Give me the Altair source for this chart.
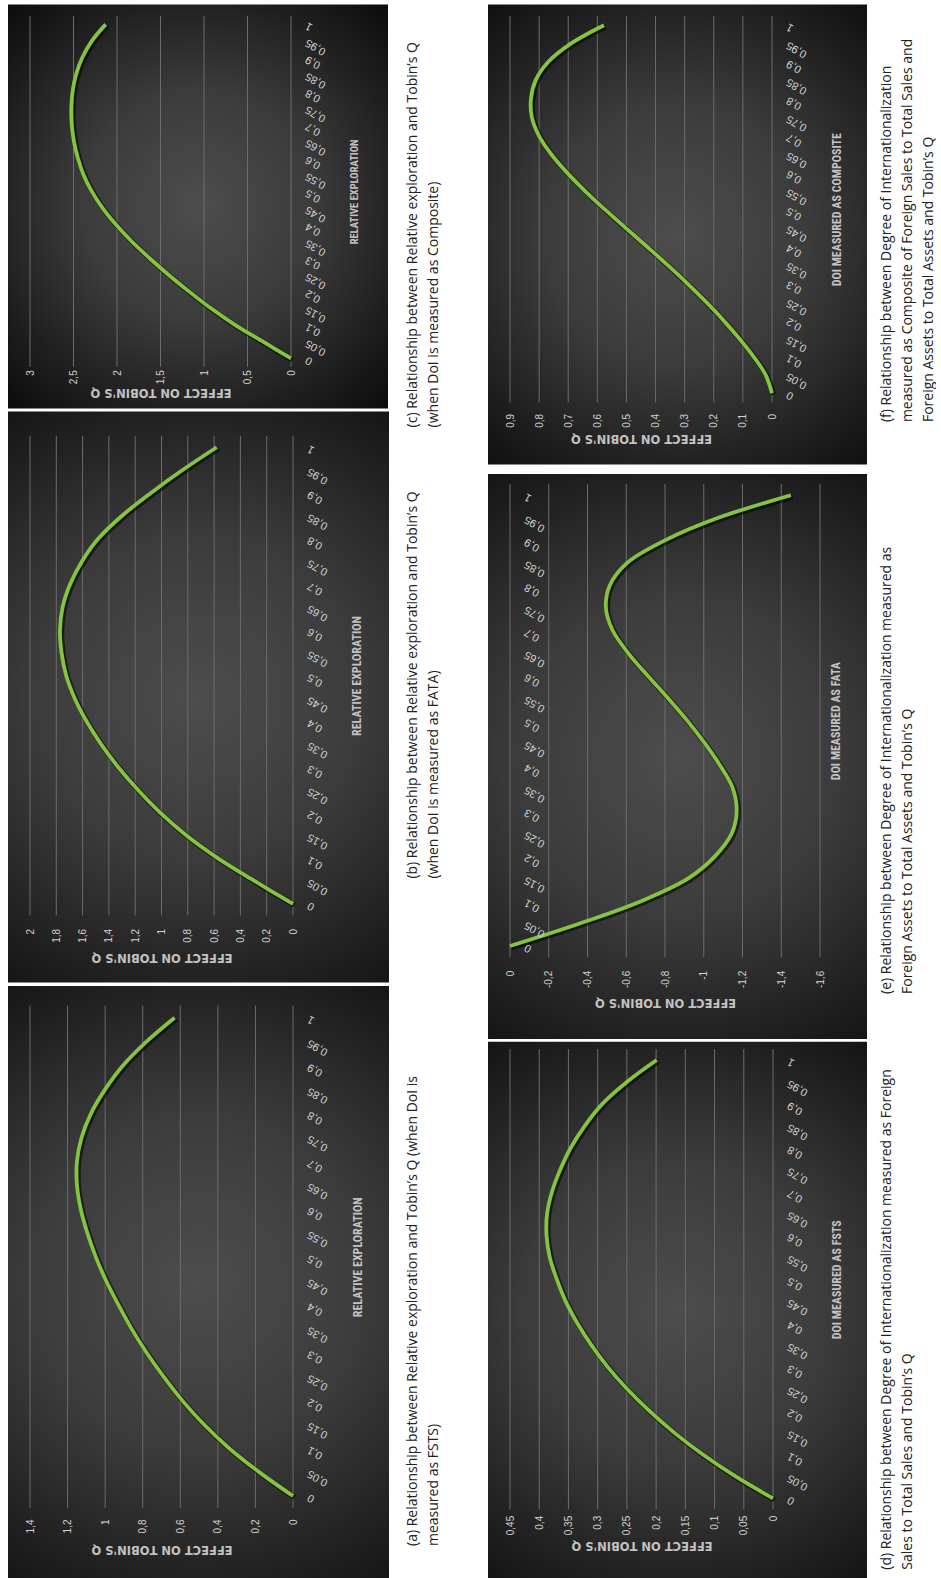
import altair as alt
import pandas as pd

# ---------------- data ----------------
categories = ["0", "0,05", "0,1", "0,15", "0,2", "0,25", "0,3", "0,35", "0,4", "0,45", "0,5",
              "0,55", "0,6", "0,65", "0,7", "0,75", "0,8", "0,85", "0,9", "0,95", "1"]

effect_a = [0, 0.18, 0.34, 0.475, 0.59, 0.69, 0.78, 0.86, 0.93, 0.995, 1.05,
            1.095, 1.13, 1.15, 1.15, 1.125, 1.075, 1.00, 0.905, 0.78, 0.63]
effect_b = [0, 0.29, 0.57, 0.81, 1.01, 1.18, 1.33, 1.46, 1.57, 1.66, 1.725,
            1.76, 1.772, 1.752, 1.695, 1.605, 1.48, 1.30, 1.08, 0.84, 0.58]
effect_c = [0, 0.32, 0.64, 0.92, 1.17, 1.405, 1.625, 1.83, 2.01, 2.165, 2.29,
            2.385, 2.45, 2.495, 2.52, 2.525, 2.51, 2.47, 2.40, 2.29, 2.13]
effect_d = [0, 0.064, 0.12, 0.169, 0.212, 0.25, 0.283, 0.311, 0.335, 0.355, 0.37,
            0.382, 0.3875, 0.3865, 0.378, 0.364, 0.346, 0.322, 0.292, 0.25, 0.199]
effect_e = [0, -0.36, -0.68, -0.92, -1.06, -1.145, -1.17, -1.15, -1.085, -1.005, -0.915,
            -0.815, -0.71, -0.61, -0.53, -0.495, -0.515, -0.605, -0.80, -1.075, -1.45]
effect_f = [0, 0.022, 0.064, 0.114, 0.169, 0.229, 0.293, 0.361, 0.432, 0.504, 0.575,
            0.643, 0.705, 0.759, 0.801, 0.825, 0.828, 0.812, 0.769, 0.691, 0.577]

ticks_a = [0, 0.2, 0.4, 0.6, 0.8, 1, 1.2, 1.4]
ticks_b = [0, 0.2, 0.4, 0.6, 0.8, 1, 1.2, 1.4, 1.6, 1.8, 2]
ticks_c = [0, 0.5, 1, 1.5, 2, 2.5, 3]
ticks_d = [0, 0.05, 0.1, 0.15, 0.2, 0.25, 0.3, 0.35, 0.4, 0.45]
ticks_e = [0, -0.2, -0.4, -0.6, -0.8, -1, -1.2, -1.4, -1.6]
ticks_f = [0, 0.1, 0.2, 0.3, 0.4, 0.5, 0.6, 0.7, 0.8, 0.9]

value_title = "EFFECT ON TOBIN'S Q"
cat_title_rel = "RELATIVE EXPLORATION"
cat_title_d = "DOI MEASURED AS FSTS"
cat_title_e = "DOI MEASURED AS FATA"
cat_title_f = "DOI MEASURED AS COMPOSITE"

caption_a = ["(a) Relationship between Relative exploration and Tobin\u2019s Q (when DoI is",
             "measured as FSTS)"]
caption_b = ["(b) Relationship between Relative exploration and Tobin\u2019s Q",
             "(when DoI is measured as FATA)"]
caption_c = ["(c) Relationship between Relative exploration and Tobin\u2019s Q",
             "(when DoI is measured as Composite)"]
caption_d = ["(d) Relationship between Degree of Internationalization measured as Foreign",
             "Sales to Total Sales and Tobin\u2019s Q"]
caption_e = ["(e) Relationship between Degree of Internationalization measured as",
             "Foreign Assets to Total Assets and Tobin\u2019s Q"]
caption_f = ["(f) Relationship between Degree of Internationalization",
             "measured as Composite of Foreign Sales to Total Sales and",
             "Foreign Assets to Total Assets and Tobin\u2019s Q"]

# ---------------- style ----------------
GREEN = "#84c441"
LABEL_COLOR = "#d2d2d2"
TITLE_COLOR = "#c2c2c2"
GRID_COLOR = "#6c6c6c"
TICK_FONT = "Liberation Sans"
WIDE_BOLD = "DejaVu Sans, Liberation Sans, sans-serif"
NARROW_FONT = "Liberation Sans Narrow, Roboto Condensed, DejaVu Sans Condensed, Liberation Sans, sans-serif"

bg_fill = alt.RadialGradient(
    gradient="radial",
    stops=[alt.GradientStop(offset=0, color="#4d4d4d"),
           alt.GradientStop(offset=0.4, color="#3b3b3b"),
           alt.GradientStop(offset=0.72, color="#1f1f1f"),
           alt.GradientStop(offset=1, color="#080808")],
    x1=0.5, y1=0.5, r1=0, x2=0.5, y2=0.5, r2=0.72,
)


def panel(values, domain, ticks, cat_title, caption, W, H, rect, cap_xy,
          label_pad, title_off, cat_title_x, cat_offset=0, cat_title_size=12):
    df = pd.DataFrame({"cat": categories, "val": values, "idx": list(range(len(categories)))})

    xenc = alt.X(
        "val:Q",
        scale=alt.Scale(domain=domain, reverse=True, nice=False, zero=False),
        axis=alt.Axis(
            values=ticks, title=value_title, orient="bottom", grid=False, domain=False,
            ticks=False, tickSize=0, labelAngle=270, labelAlign="right", labelBaseline="middle",
            labelPadding=label_pad, labelColor=LABEL_COLOR, labelFont=TICK_FONT, labelFontSize=10,
            labelExpr="replace(toString(datum.value), '.', ',')", labelOverlap=False,
            labelFlush=False, titleAngle=180, titleX=W / 2, titleY=title_off,
            titleAlign="center", titleBaseline="middle", titleColor=TITLE_COLOR,
            titleFont=WIDE_BOLD, titleFontSize=11.5, titleFontWeight="bold", zindex=1,
        ),
    )
    yenc = alt.Y(
        "cat:O",
        sort=categories[::-1],
        scale=alt.Scale(type="point", padding=0.5),
        axis=alt.Axis(
            orient="right", title=cat_title, grid=False, domain=False, ticks=False, tickSize=0,
            labelAngle=210, labelAlign="right", labelBaseline="middle", labelPadding=15,
            labelColor=LABEL_COLOR, labelFont=TICK_FONT, labelFontSize=11, labelOverlap=False,
            offset=cat_offset, titleAngle=270, titleX=cat_title_x, titleY=H / 2,
            titleAlign="center", titleBaseline="middle", titleColor=TITLE_COLOR,
            titleFont=NARROW_FONT, titleFontSize=cat_title_size, titleFontWeight="bold", zindex=1,
        ),
    )

    bg = alt.Chart(pd.DataFrame({"k": [0]})).mark_rect(fill=bg_fill).encode(
        x=alt.value(rect[0]), x2=alt.value(rect[1]), y=alt.value(rect[2]), y2=alt.value(rect[3])
    )
    rules = alt.Chart(pd.DataFrame({"val": ticks})).mark_rule(
        color=GRID_COLOR, strokeWidth=1
    ).encode(x=xenc)
    shadow = alt.Chart(df).mark_line(
        color="#000000", opacity=0.55, strokeWidth=5.5, xOffset=1.5, yOffset=1.5,
        interpolate="catmull-rom"
    ).encode(x=xenc, y=yenc, order="idx:Q")
    line = alt.Chart(df).mark_line(
        color=GREEN, strokeWidth=3.8, interpolate="catmull-rom"
    ).encode(x=xenc, y=yenc, order="idx:Q")
    cap = alt.Chart(pd.DataFrame({"t": ["\n".join(caption)]})).mark_text(
        angle=270, align="left", baseline="top", lineBreak="\n", lineHeight=21,
        font="Open Sans", fontSize=14, color="#222222"
    ).encode(x=alt.value(cap_xy[0]), y=alt.value(cap_xy[1]), text="t:N")

    return alt.layer(bg, rules, shadow, line, cap).properties(width=W, height=H)


pc = panel(effect_c, [0, 3], ticks_c, cat_title_rel, caption_c, 261, 350.8,
           (-22, 358, -11.6, 392.4), (376, 411.4), 3, 25, 63, cat_title_size=10.5)
pb = panel(effect_b, [0, 2], ticks_b, cat_title_rel, caption_b, 263, 479.6,
           (-22, 359, -24.2, 546.8), (376, 442.8), 13, 41, 63)
pa = panel(effect_a, [0, 1.4], ticks_a, cat_title_rel, caption_a, 263, 502.3,
           (-22, 359, -19.7, 573.3), (376, 540.3), 11, 40, 64.5)

pf = panel(effect_f, [0, 0.9], ticks_f, cat_title_f, caption_f, 262, 386.4,
           (-22, 357, -11.6, 448.4), (370, 406.1), 11, 35, 64.5)
pe = panel(effect_e, [-1.6, 0], ticks_e, cat_title_e, caption_e, 310, 473.3,
           (-22, 357, -10, 555), (370, 510), 13, 44, 325, cat_offset=-310)
pd_ = panel(effect_d, [0, 0.45], ticks_d, cat_title_d, caption_d, 263, 460.2,
            (-22, 357, -7.4, 530.6), (370, 520.6), 6, 35, 63)

left = alt.vconcat(pc, alt.vconcat(pb, pa, spacing=89.9, bounds="flush"),
                   spacing=68.8, bounds="flush")
right = alt.vconcat(pf, alt.vconcat(pe, pd_, spacing=91.1, bounds="flush"),
                    spacing=81, bounds="flush")

# with flush bounds a nested concat counts as zero width, so the spacing
# is the full distance between the two columns' plot areas
chart = alt.hconcat(left, right, spacing=480, bounds="flush").properties(
    padding={"left": 8, "top": 4, "right": 0, "bottom": 0},
    background="white",
).configure_view(stroke=None)

chart.save("out.html", embed_options={"renderer": "svg", "actions": False})
